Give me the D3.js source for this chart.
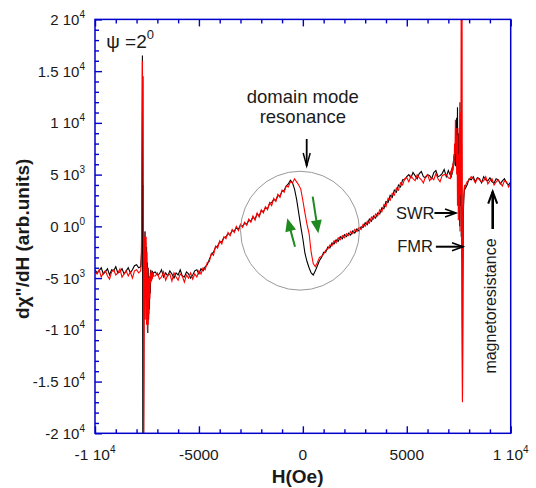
<!DOCTYPE html>
<html><head><meta charset="utf-8">
<script src="https://cdn.jsdelivr.net/npm/d3@7"></script>
<style>
body{margin:0;background:#fff}
svg{display:block}
text{font-family:"Liberation Sans",Arial,Helvetica,sans-serif;fill:#1a1a1a}
</style>
</head><body><svg id="c" width="536" height="488"></svg>
<script>
// ---------------- DATA ----------------
const xDomain = [-10000, 10000];
const yDomain = [-20000, 20000];

// field values (Oe), in segments
const fieldLow = [-10000,-9900,-9800,-9700,-9600,-9500,-9400,-9300,-9200,-9100,-9000,-8900,-8800,-8700,-8600,-8500,-8400,-8300,-8200,-8100,-8000,-7900];
const fieldSpikeLow = [-7800,-7780,-7760,-7740,-7720,-7700,-7680,-7660,-7640,-7620,-7600,-7580,-7560,-7540,-7520,-7500,-7480,-7460,-7440,-7420,-7400,-7380,-7360,-7340,-7320,-7300,-7280,-7260,-7240,-7220,-7200];
const fieldMid = [
-7100,-7000,-6900,-6800,-6700,-6600,-6500,-6400,-6300,-6200,
-6100,-6000,-5900,-5800,-5700,-5600,-5500,-5400,-5300,-5200,
-5100,-5000,-4900,-4800,-4700,-4600,-4500,-4400,-4300,-4200,
-4100,-4000,-3900,-3800,-3700,-3600,-3500,-3400,-3300,-3200,
-3100,-3000,-2900,-2800,-2700,-2600,-2500,-2400,-2300,-2200,
-2100,-2000,-1900,-1800,-1700,-1600,-1500,-1400,-1300,-1200,
-1100,-1000,-900,-800,-700,-600,-500,-400,-300,-200,
-100,0,100,200,300,400,500,600,700,800,
900,1000,1100,1200,1300,1400,1500,1600,1700,1800,
1900,2000,2100,2200,2300,2400,2500,2600,2700,2800,
2900,3000,3100,3200,3300,3400,3500,3600,3700,3800,
3900,4000,4100,4200,4300,4400,4500,4600,4700,4800,
4900,5000,5100,5200,5300,5400,5500,5600,5700,5800,
5900,6000,6100,6200,6300,6400,6500,6600,6700,6800,
6900,7000];
const fieldSpikeHigh = [7100,7120,7140,7160,7180,7200,7220,7240,7260,7280,7300,7320,7340,7360,7380,7400,7420,7440,7460,7480,7500,7520,7540,7560,7580,7600,7620,7640,7660,7680,7700,7720,7740,7760,7780,7800];
const fieldHigh = [7900,8000,8100,8200,8300,8400,8500,8600,8700,8800,8900,9000,9100,9200,9300,9400,9500,9600,9700,9800,9900,10000];

// black series (dχ''/dH, arb. units)
const blackLow = [-4200,-4500,-4300,-4000,-4600,-4400,-4100,-4700,-4200,-4300,-3900,-4500,-4400,-4100,-4600,-4300,-4000,-4500,-4200,-3800,-3700,-4000];
const blackSpikeLow = [-3900,-3200,-2500,3000,16500,-21000,4000,-21000,-1500,-8000,
-500,-6500,-1500,-9000,-2000,-8500,-3500,-10300,-4000,-9000,
-5500,-8000,-4800,-6500,-4200,-5200,-4500,-5000,-4300,-4900,-4500];
const blackMid = [
-4400,-4700,-4600,-4200,-4900,-4500,-4800,-4300,-4600,-5000,
-4500,-4700,-4200,-4800,-4900,-4400,-4600,-5000,-4700,-4300,
-4200,-4600,-4100,-4300,-3900,-3700,-3200,-2700,-2500,-2000,
-1900,-1500,-1500,-1100,-1000,-700,-800,-400,-500,-100,
-300,100,0,300,200,600,500,900,700,1200,
1000,1500,1400,1800,1700,2200,2300,2600,2500,3000,
2900,3400,3500,3900,4100,4450,4200,3600,2600,1300,
0,-1200,-2600,-3400,-4000,-4500,-4700,-4300,-3800,-3300,
-3000,-2500,-2500,-2000,-2100,-1600,-1700,-1300,-1450,-1000,
-1200,-800,-1000,-650,-850,-450,-650,-250,-450,-50,
-100,350,150,700,500,1000,800,1300,1200,1800,
1700,2400,2300,3000,2800,3500,3300,4000,3800,4500,
4500,4800,5000,4700,5200,4900,4600,5100,5300,4800,
4700,5000,4900,4600,5200,5400,4800,4900,5100,5500,
4800,5400];
const blackSpikeHigh = [4900,5300,4700,5600,5000,5800,5400,6300,5900,7000,
6400,6800,5800,9000,7500,10500,6000,11500,4000,9000,
1500,7000,0,12000,2000,9000,-1000,8000,-9000,-16800,
-6000,1000,2500,3200,3800,3600];
const blackHigh = [4000,4600,4500,4800,4300,4700,4600,4200,4800,4500,4400,4700,4300,4200,4600,4500,4100,4400,4600,4200,4000,4300];

// red series
const redLow = [-4400,-4600,-4200,-4900,-4500,-4300,-4800,-5100,-4400,-4200,-4700,-4500,-4100,-4900,-4600,-4300,-4800,-4400,-5000,-4300,-4200,-4500];
const redSpikeLow = [-4300,-3700,-1000,8000,16000,11000,14500,-21000,-12000,-1000,
-9000,-500,-7000,-1000,-9500,-2500,-10000,-4000,-9500,-5000,
-8500,-5000,-7000,-4500,-5500,-4300,-5300,-4600,-5100,-4400,-4800];
const redMid = [
-4800,-4500,-5100,-4900,-4400,-5200,-4700,-4600,-5300,-4500,
-4900,-5200,-4600,-4800,-5400,-4700,-5000,-4500,-5100,-4600,
-4900,-4300,-4600,-4000,-4200,-3500,-3400,-2600,-2800,-1900,
-2100,-1400,-1700,-1000,-1200,-600,-900,-300,-600,0,
-400,200,-100,400,100,700,400,1000,600,1300,
900,1600,1300,1900,1600,2300,2000,2700,2400,3100,
2800,3500,3300,3900,3800,4300,4200,4600,4300,4000,
3600,2500,1300,200,-700,-2500,-3600,-3900,-3500,-3000,
-2900,-2700,-2300,-2200,-1800,-1900,-1400,-1600,-1100,-1300,
-900,-1100,-700,-900,-500,-700,-300,-500,-100,-300,
200,0,500,300,900,700,1200,1000,1600,1400,
2100,1900,2700,2500,3200,3000,3700,3500,4200,4000,
4600,4700,4300,4900,4600,4400,5000,4700,4500,4200,
4800,5000,4400,4700,4500,5100,4600,4300,4900,5000,
5000,4700];
const redSpikeHigh = [4600,5400,4900,5300,5700,5200,6100,5600,6800,6200,
8000,7000,10300,8000,9500,5000,8800,2000,9500,600,
7000,1500,8000,-500,11000,3000,25000,-3000,24000,-17000,
-4000,1500,2800,3500,4000,3800];
const redHigh = [4300,4500,4800,4600,4200,4700,4500,4300,4400,4800,4100,4400,4600,4000,4300,4500,4200,3900,4400,4300,3800,4100];

// ticks
const xMajorTicks = [-10000,-5000,0,5000,10000];
const xMinorTicks = [-9000,-8000,-7000,-6000,-4000,-3000,-2000,-1000,1000,2000,3000,4000,6000,7000,8000,9000];
const xTickText = ["-1 10","-5000","0","5000","1 10"];
const xTickSup = ["4","","","","4"];
const yMajorTicks = [-20000,-15000,-10000,-5000,0,5000,10000,15000,20000];
const yMinorTicks = [-19000,-18000,-17000,-16000,-14000,-13000,-12000,-11000,-9000,-8000,-7000,-6000,-4000,-3000,-2000,-1000,1000,2000,3000,4000,6000,7000,8000,9000,11000,12000,13000,14000,16000,17000,18000,19000];
const yTickText = ["-2 10","-1.5 10","-1 10","-5 10","0 10","5 10","1 10","1.5 10","2 10"];
const yTickSup = ["4","4","4","3","0","3","4","4","4"];

// ---------------- DRAW ----------------
const field = [].concat(fieldLow, fieldSpikeLow, fieldMid, fieldSpikeHigh, fieldHigh);
const black = [].concat(blackLow, blackSpikeLow, blackMid, blackSpikeHigh, blackHigh);
const red = [].concat(redLow, redSpikeLow, redMid, redSpikeHigh, redHigh);
if (field.length !== black.length || field.length !== red.length) {
  throw new Error("length mismatch " + field.length + " " + black.length + " " + red.length);
}

const W = 536, H = 488;
const margin = {left: 95, top: 19.4, right: 25.3, bottom: 54.7};
const svg = d3.select("#c");
const x = d3.scaleLinear().domain(xDomain).range([margin.left, W - margin.right]);
const y = d3.scaleLinear().domain(yDomain).range([H - margin.bottom, margin.top]);
const AX = "#0000cc";

svg.append("defs").append("clipPath").attr("id","clip")
  .append("rect").attr("x", x(xDomain[0])).attr("y", y(yDomain[1]))
  .attr("width", x(xDomain[1]) - x(xDomain[0])).attr("height", y(yDomain[0]) - y(yDomain[1]));

const plot = svg.append("g").attr("clip-path","url(#clip)");
const line = d3.line().x(d => x(d[0])).y(d => y(d[1]));
plot.append("path").datum(field.map((f,i)=>[f, black[i]]))
  .attr("d", line).attr("fill","none").attr("stroke","#000").attr("stroke-width",1.1);
plot.append("path").datum(field.map((f,i)=>[f, red[i]]))
  .attr("d", line).attr("fill","none").attr("stroke","#ff0000").attr("stroke-width",1.1);

// axes (ticks inward)
function styleAxis(g){ g.select(".domain").remove(); g.selectAll("line").attr("stroke",AX).attr("stroke-width",1.4); }
svg.append("g").attr("transform",`translate(0,${y(yDomain[0])})`)
  .call(d3.axisBottom(x).tickValues(xMajorTicks).tickSize(-7).tickFormat("")).call(styleAxis);
svg.append("g").attr("transform",`translate(0,${y(yDomain[0])})`)
  .call(d3.axisBottom(x).tickValues(xMinorTicks).tickSize(-4).tickFormat("")).call(styleAxis);
svg.append("g").attr("transform",`translate(0,${y(yDomain[1])})`)
  .call(d3.axisTop(x).tickValues(xMajorTicks).tickSize(-7).tickFormat("")).call(styleAxis);
svg.append("g").attr("transform",`translate(0,${y(yDomain[1])})`)
  .call(d3.axisTop(x).tickValues(xMinorTicks).tickSize(-4).tickFormat("")).call(styleAxis);
svg.append("g").attr("transform",`translate(${x(xDomain[0])},0)`)
  .call(d3.axisLeft(y).tickValues(yMajorTicks).tickSize(-7).tickFormat("")).call(styleAxis);
svg.append("g").attr("transform",`translate(${x(xDomain[0])},0)`)
  .call(d3.axisLeft(y).tickValues(yMinorTicks).tickSize(-4).tickFormat("")).call(styleAxis);

svg.append("rect").attr("x", x(xDomain[0])).attr("y", y(yDomain[1]))
  .attr("width", x(xDomain[1]) - x(xDomain[0])).attr("height", y(yDomain[0]) - y(yDomain[1]))
  .attr("fill","none").attr("stroke",AX).attr("stroke-width",1.5);

// tick labels
yMajorTicks.forEach((v,i)=>{
  const t = svg.append("text").attr("x", x(xDomain[0]) - 10).attr("y", y(v) + 5.5)
    .attr("text-anchor","end").attr("font-size",15);
  t.append("tspan").text(yTickText[i]);
  t.append("tspan").attr("font-size",10).attr("dy",-7).text(yTickSup[i]);
});
xMajorTicks.forEach((v,i)=>{
  const t = svg.append("text").attr("x", x(v)).attr("y", y(yDomain[0]) + 27)
    .attr("text-anchor","middle").attr("font-size",15.5);
  t.append("tspan").text(xTickText[i]);
  if (xTickSup[i]) t.append("tspan").attr("font-size",10).attr("dy",-7).text(xTickSup[i]);
});

// axis titles
svg.append("text").attr("x", x(-250)).attr("y", 483).attr("text-anchor","middle")
  .attr("font-size",19).attr("font-weight","bold").text("H(Oe)");
svg.append("text").attr("transform",`translate(29,${y(-1200)}) rotate(-90)`)
  .attr("text-anchor","middle").attr("font-size",19).attr("font-weight","bold")
  .text("dχ\"/dH (arb.units)");

// annotations
const ann = svg.append("g");
const psi = ann.append("text").attr("x", x(-9460)).attr("y", y(17270)).attr("font-size",19);
psi.append("tspan").text("ψ =2");
psi.append("tspan").attr("font-size",13).attr("dy",-9).text("0");

ann.append("text").attr("x", x(0)).attr("y", y(11900)).attr("text-anchor","middle").attr("font-size",18.5).text("domain mode");
ann.append("text").attr("x", x(0)).attr("y", y(9950)).attr("text-anchor","middle").attr("font-size",18.5).text("resonance");

ann.append("circle").attr("cx", x(-137)).attr("cy", y(-420))
  .attr("r", x(2860) - x(0)).attr("fill","none").attr("stroke","#999").attr("stroke-width",1);

function arrow(x1,y1,x2,y2,opt){
  const dx=x2-x1, dy=y2-y1, L=Math.hypot(dx,dy), ux=dx/L, uy=dy/L, px=-uy, py=ux;
  const hl=opt.len, hw=opt.half;
  const bx=x2-ux*hl, by=y2-uy*hl;
  if (opt.filled){
    ann.append("line").attr("x1",x1).attr("y1",y1).attr("x2",bx+ux*1).attr("y2",by+uy*1)
      .attr("stroke",opt.color).attr("stroke-width",opt.width);
    ann.append("path").attr("d",`M${x2},${y2}L${bx+px*hw},${by+py*hw}L${bx-px*hw},${by-py*hw}Z`)
      .attr("fill",opt.color);
  } else {
    ann.append("line").attr("x1",x1).attr("y1",y1).attr("x2",x2).attr("y2",y2)
      .attr("stroke",opt.color).attr("stroke-width",opt.width);
    ann.append("path").attr("d",`M${bx+px*hw},${by+py*hw}L${x2},${y2}L${bx-px*hw},${by-py*hw}`)
      .attr("fill","none").attr("stroke",opt.color).attr("stroke-width",opt.width*0.8);
  }
}
// domain mode arrow
arrow(x(185), y(8440), x(185), y(5830), {len:13, half:3.5, color:"#000", width:1.8});
// green arrows
arrow(x(-378), y(-1967), x(-748), y(778), {filled:true, len:13, half:5.5, color:"#1f8a1f", width:2});
arrow(x(474), y(2865), x(743), y(-672), {filled:true, len:13, half:5.5, color:"#1f8a1f", width:2});
// SWR / FMR
ann.append("text").attr("x", x(6330)).attr("y", y(730)).attr("text-anchor","end").attr("font-size",16.5).text("SWR");
arrow(x(6330), y(1290), x(7370), y(1290), {len:11, half:4, color:"#000", width:2});
ann.append("text").attr("x", x(6260)).attr("y", y(-2450)).attr("text-anchor","end").attr("font-size",16.5).text("FMR");
arrow(x(6400), y(-1967), x(7705), y(-1967), {len:11, half:4, color:"#000", width:2});
// magnetoresistance
arrow(x(9134), y(-255), x(9134), y(3350), {len:12, half:4.5, color:"#000", width:2.6});
ann.append("text").attr("transform",`translate(${x(9134)+3},${y(-7700)}) rotate(-90)`)
  .attr("text-anchor","middle").attr("font-size",16).text("magnetoresistance");
</script>
</body></html>
